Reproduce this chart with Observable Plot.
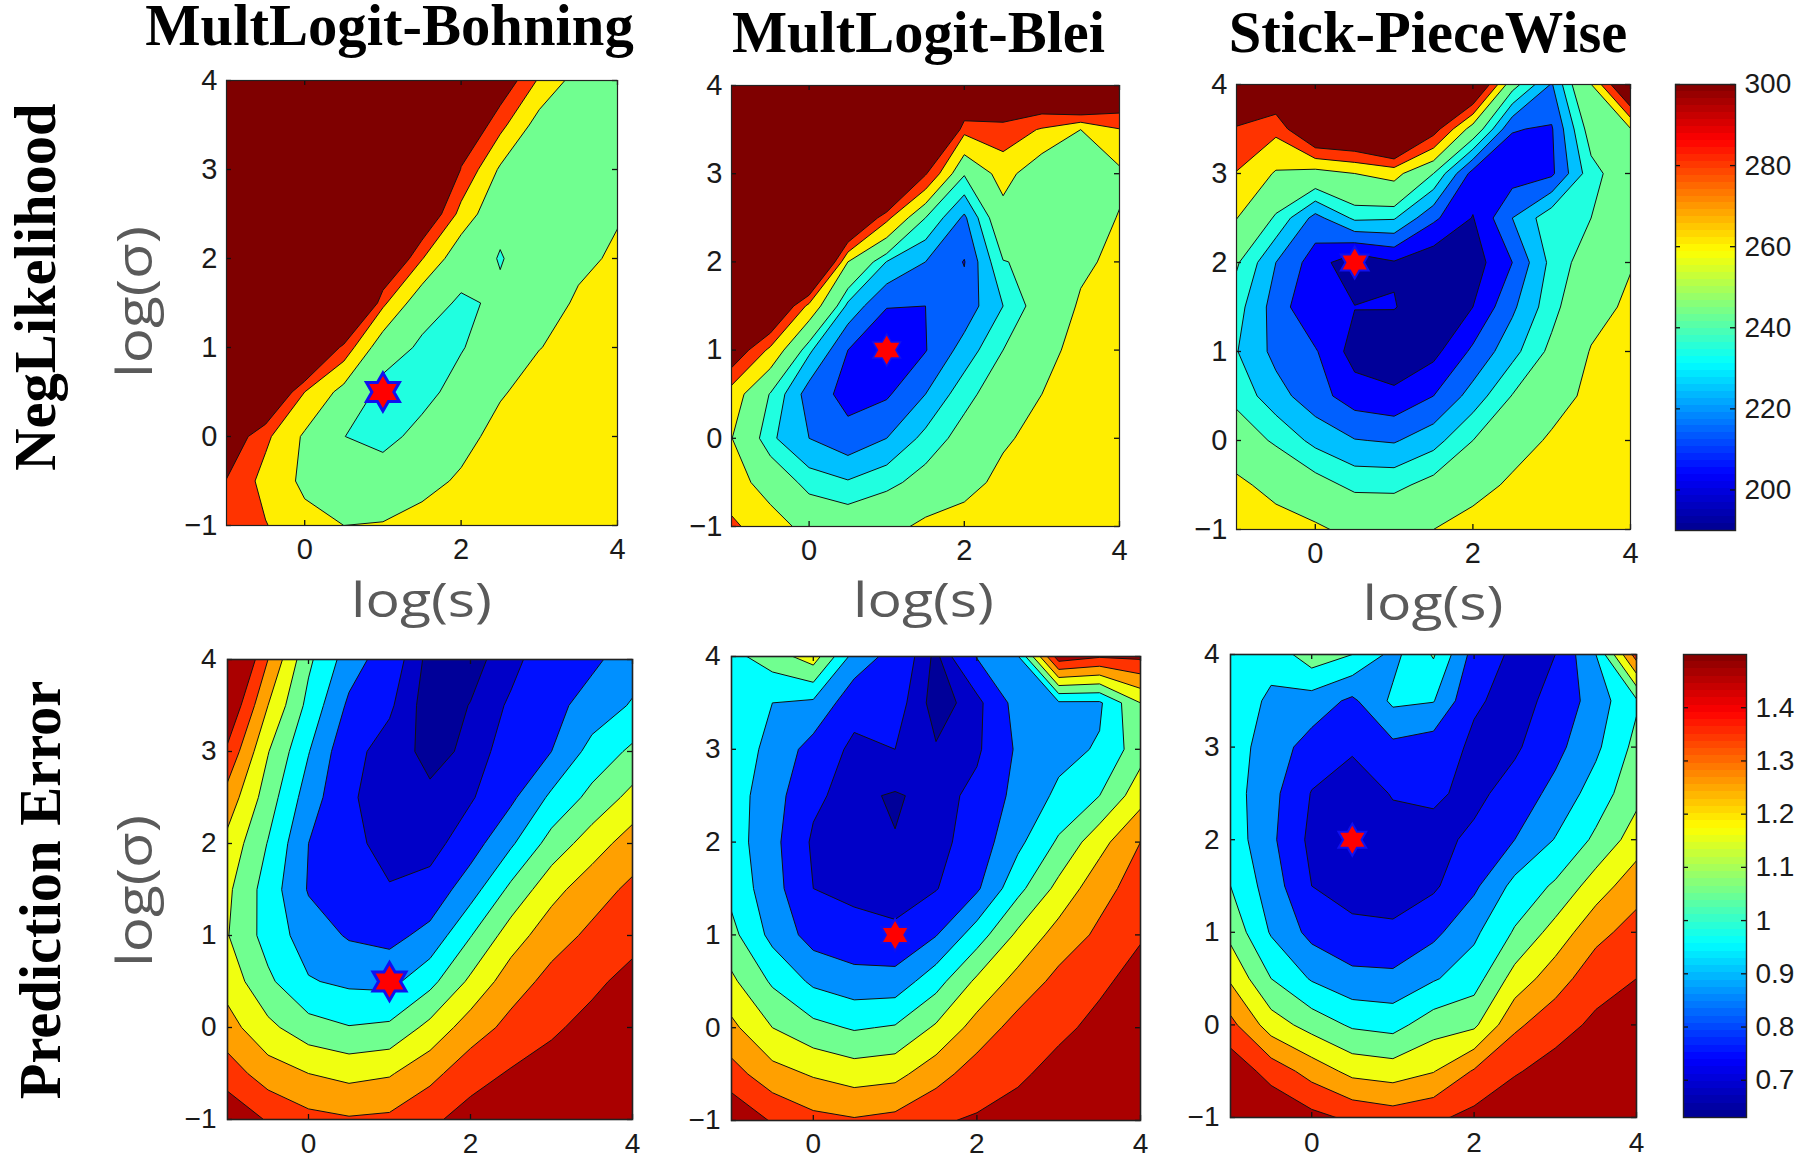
<!DOCTYPE html>
<html>
<head>
<meta charset="utf-8">
<script src="https://cdn.jsdelivr.net/npm/d3@7"></script>
<script src="https://cdn.jsdelivr.net/npm/@observablehq/plot@0.6"></script>
<style>
html,body{margin:0;padding:0;background:#fff}
#page{position:relative;width:1801px;height:1160px;overflow:hidden;background:#fff}
#page svg{position:absolute;overflow:visible}
</style>
</head>
<body>
<div id="page"></div>
<script>
// grid axes: log(s), log(sigma) = -1 ... 4 in steps of 0.5 (11 x 11)
const xTicks = [0, 2, 4];
const yTicks = [-1, 0, 1, 2, 3, 4];
const nllTicks = [200, 220, 240, 260, 280, 300];
const errTicks = [0.7, 0.8, 0.9, 1, 1.1, 1.2, 1.3, 1.4];

const nllLevels = [0, 200, 210, 220, 230, 240, 260, 280, 300];
const nllColors = ["#000099", "#0000ff", "#0060ff", "#00c0ff", "#20ffe0", "#70ff90", "#ffee00", "#ff3300", "#7f0000"];
const errLevels = [0, 0.65, 0.7, 0.8, 0.9, 1, 1.1, 1.2, 1.3, 1.4];
const errColors = ["#000099", "#0000c8", "#0010ff", "#0090ff", "#00ffff", "#70ff90", "#f0ff10", "#ffa000", "#ff3300", "#aa0000"];
const jetStops = [0, 0.125, 0.375, 0.625, 0.875, 1];
const jetColors = ["#00008f", "#0000ff", "#00ffff", "#ffff00", "#ff0000", "#800000"];

// NegLikelihood, rows from log(sigma) = -1 upward
const nllBohningRows = [
  [292,281,266,260,261,268,270,273,275,277,278],
  [299,273,256,250,249,253,263,268,272,274,276],
  [320,284,257,240.2,235,245,253,267,271,274,276],
  [400,342,280,253,235.5,235,246,258,268,271,273],
  [500,450,363,292,246.5,238,239,249,259.5,266,270],
  [560,520,480,400,284,245,238.5,241.5,253,262,268],
  [620,580,540,500,340,281,245,240.2,244.5,257,262],
  [680,640,600,540,420,327,273,242,246,251,259],
  [740,700,660,600,520,440,298,257,248,248,248],
  [800,760,720,680,620,520,330,286,251,246,246],
  [900,880,840,800,760,680,500,318,277,251,247]
];
// The small dip near log(s) = 2.5, log(sigma) = 2 in that panel, as its own 3 x 3 patch (values negated)
const nllBohningDip = [
  -250, -241.5, -250,
  -245, -239.5, -244.5,
  -250, -242, -250
];
// The remaining tables are columns from log(s) = -1 rightward, each from log(sigma) = -1 upward
const nllBleiCols = [
  [284,268,260.5,270,320,400,460,520,580,640,700],
  [268,252,232,239,275,340,420,480,540,600,660],
  [254,235,220,215,232,274,380,450,520,580,640],
  [249,231,213,207,210,227,260,350,450,520,580],
  [254,236.5,220,208.6,201,210.5,229.5,285,400,480,540],
  [264,245,233,220,209.5,210,220,240,302,420,500],
  [270,252,245,236,224,214,209.5,218,241,285,360],
  [278,266,257,248,240,230,239.5,252,268,292,340],
  [279,274,267,260,253,247,243,244,245,278,340],
  [279,276,273,270,267,262,257,250,249,260,380],
  [279,278,276,274,271,268,264,261,256,279,335]
];
const nllStickCols = [
  [274,264,248,236.6,230.5,234,241.5,260.5,279,298,330],
  [268,254,238,224,217,215.5,220,238,258,285,330],
  [263,245,227,214,211,200.5,205,216.5,252,335,400],
  [255,237,220.5,205,195.7,200.3,192.5,232,260,340,400],
  [253,237,219,202.5,192,200.5,199,231,266,370,430],
  [260,244,226,210,197,194,193,212,240,310,370],
  [270,251,240,224,212,200,195,199.5,206,250,340],
  [274,264,250,240.5,226.5,218,210,220,205,210.5,245],
  [276,270,263,251,243,236,233,236.7,208,209,219],
  [278,275,270,265,261,254,247,240,236,246,259.5],
  [279,278,276,272,268,263,259,252,249,259,340]
];
const errBohningCols = [
  [1.48,1.35,1.24,1.16,1.105,1.12,1.17,1.26,1.38,1.5,1.62],
  [1.39,1.25,1.125,1.02,0.96,0.955,0.995,1.05,1.105,1.2,1.3],
  [1.33,1.2,1.04,0.908,0.85,0.792,0.8,0.85,0.905,0.97,1.02],
  [1.31,1.17,1.005,0.88,0.79,0.745,0.72,0.71,0.72,0.78,0.85],
  [1.32,1.19,1.02,0.87,0.77,0.705,0.675,0.665,0.675,0.71,0.74],
  [1.38,1.27,1.13,0.97,0.83,0.735,0.665,0.66,0.635,0.62,0.63],
  [1.44,1.36,1.25,1.12,0.995,0.855,0.755,0.69,0.66,0.652,0.63],
  [1.5,1.41,1.33,1.255,1.15,1.025,0.885,0.78,0.74,0.71,0.68],
  [1.6,1.44,1.385,1.33,1.26,1.165,1.04,0.92,0.8,0.77,0.745],
  [1.56,1.5,1.43,1.38,1.32,1.26,1.15,1.03,0.935,0.84,0.78],
  [1.6,1.55,1.5,1.43,1.37,1.32,1.25,1.13,1.02,0.91,0.85]
];
const errBleiCols = [
  [1.49,1.34,1.225,1.12,1.03,0.97,0.95,0.95,0.96,0.96,0.97],
  [1.39,1.24,1.1,0.985,0.87,0.84,0.83,0.84,0.87,0.9,1.05],
  [1.33,1.19,1.03,0.88,0.76,0.7,0.685,0.72,0.76,0.88,1.15],
  [1.31,1.155,0.99,0.84,0.73,0.68,0.66,0.66,0.68,0.735,0.86],
  [1.33,1.17,1.01,0.84,0.715,0.67,0.652,0.645,0.7,0.73,0.76],
  [1.39,1.26,1.115,0.96,0.795,0.695,0.67,0.665,0.655,0.625,0.635],
  [1.41,1.35,1.24,1.12,0.95,0.785,0.745,0.725,0.685,0.675,0.805],
  [1.45,1.38,1.34,1.235,1.12,0.97,0.875,0.83,0.815,0.84,0.89],
  [1.55,1.44,1.375,1.33,1.24,1.13,1.015,0.92,0.87,0.885,1.46],
  [1.6,1.5,1.43,1.38,1.32,1.265,1.165,1,0.91,0.885,1.41],
  [1.65,1.58,1.5,1.44,1.39,1.345,1.3,1.16,1.06,1.1,1.42]
];
const errStickCols = [
  [1.55,1.47,1.33,1.185,1.07,1,0.96,0.945,0.95,0.95,0.96],
  [1.49,1.36,1.15,1,0.89,0.85,0.82,0.83,0.85,0.885,0.93],
  [1.43,1.26,1.06,0.89,0.77,0.7,0.675,0.695,0.76,0.855,1.06],
  [1.38,1.17,0.985,0.83,0.72,0.67,0.655,0.66,0.71,0.78,1],
  [1.35,1.15,0.965,0.825,0.71,0.675,0.67,0.705,0.775,0.92,0.87],
  [1.38,1.195,1.055,0.89,0.775,0.685,0.67,0.715,0.745,0.905,1.01],
  [1.43,1.31,1.08,0.955,0.88,0.78,0.72,0.675,0.685,0.71,0.76],
  [1.48,1.39,1.28,1.14,1.01,0.93,0.8,0.74,0.685,0.675,0.68],
  [1.55,1.44,1.36,1.255,1.14,1.015,0.905,0.83,0.77,0.72,0.7],
  [1.6,1.5,1.42,1.36,1.27,1.15,1.02,0.945,0.88,0.85,0.9],
  [1.62,1.55,1.47,1.4,1.34,1.26,1.15,1.07,1.03,0.985,1.35]
];

const page = document.getElementById("page");
const ml = 80, mr = 12, mt = 24, mb = 38;
const fmt = d3.format("d");

const panels = [
  {rows: nllBohningRows, levels: nllLevels, colors: nllColors, box: [226, 80, 617, 525], best: [1, 0.5], R: 19, sw: 3, fw: 1.2, xp: 13, yp: 9, fs: 29, dip: nllBohningDip},
  {rows: d3.transpose(nllBleiCols), levels: nllLevels, colors: nllColors, box: [731, 85, 1119, 526], best: [1, 1], R: 16, sw: 1.5, fw: 1.2, xp: 13, yp: 9, fs: 29},
  {rows: d3.transpose(nllStickCols), levels: nllLevels, colors: nllColors, box: [1236, 84, 1630, 529], best: [0.5, 2], R: 16, sw: 2, fw: 1.2, xp: 13, yp: 9, fs: 29},
  {rows: d3.transpose(errBohningCols), levels: errLevels, colors: errColors, box: [227, 659, 632, 1119], best: [1, 0.5], R: 19, sw: 3, fw: 1.6, xp: 14, yp: 11, fs: 28},
  {rows: d3.transpose(errBleiCols), levels: errLevels, colors: errColors, box: [731, 656, 1140, 1120], best: [1, 1], R: 16, sw: 2, fw: 1.6, xp: 13, yp: 11, fs: 28},
  {rows: d3.transpose(errStickCols), levels: errLevels, colors: errColors, box: [1230, 654, 1636, 1117], best: [0.5, 2], R: 16, sw: 2, fw: 1.6, xp: 15, yp: 11, fs: 28}
];

function hexagram() {
  return {
    draw(ctx, size) {
      const R = Math.sqrt(size / Math.PI), r = R / Math.sqrt(3);
      for (let i = 0; i < 12; ++i) {
        const a = -Math.PI / 2 + i * Math.PI / 6, q = i % 2 ? r : R;
        if (i) ctx.lineTo(q * Math.cos(a), q * Math.sin(a));
        else ctx.moveTo(q * Math.cos(a), q * Math.sin(a));
      }
      ctx.closePath();
    }
  };
}

function place(svg, left, top) {
  svg.style.left = left + "px";
  svg.style.top = top + "px";
  svg.style.background = "transparent";
  page.appendChild(svg);
}

for (const p of panels) {
  const [x0, y0, x1, y1] = p.box;
  const w = x1 - x0, h = y1 - y0;
  const svg = Plot.plot({
    width: w + ml + mr, height: h + mt + mb,
    marginLeft: ml, marginRight: mr, marginTop: mt, marginBottom: mb,
    style: {fontFamily: "Liberation Sans", background: "transparent"},
    x: {domain: [-1, 4], axis: null},
    y: {domain: [-1, 4], axis: null},
    color: {type: "ordinal", domain: p.levels, range: p.colors},
    marks: [
      Plot.contour(p.rows.flat(), {
        width: 11, height: 11, x1: -1.25, x2: 4.25, y1: -1.25, y2: 4.25,
        value: (d) => d, thresholds: p.levels, fill: "value",
        stroke: "#111", strokeWidth: 1, clip: true, smooth: true
      }),
      p.dip ? Plot.contour(p.dip, {
        width: 3, height: 3, x1: 1.75, x2: 3.25, y1: 1.25, y2: 2.75,
        value: (d) => d, thresholds: [-240], fill: "#20ffe0",
        stroke: "#111", strokeWidth: 1, clip: true, smooth: true
      }) : null,
      Plot.tickX(xTicks, {x: (d) => d, stroke: "#111", strokeWidth: 1.3, insetTop: h - 5}),
      Plot.tickX(xTicks, {x: (d) => d, stroke: "#111", strokeWidth: 1.3, insetBottom: h - 5}),
      Plot.tickY(yTicks, {y: (d) => d, stroke: "#111", strokeWidth: 1.3, insetRight: w - 5}),
      Plot.tickY(yTicks, {y: (d) => d, stroke: "#111", strokeWidth: 1.3, insetLeft: w - 5}),
      Plot.frame({stroke: "#222", strokeWidth: p.fw}),
      Plot.axisX(xTicks, {tickSize: 0, tickPadding: p.xp, fontSize: p.fs, fill: "#1a1a1a", label: null, tickFormat: fmt}),
      Plot.axisY(yTicks, {tickSize: 0, tickPadding: p.yp, fontSize: p.fs, fill: "#1a1a1a", label: null, tickFormat: fmt}),
      Plot.dot([p.best], {x: (d) => d[0], y: (d) => d[1], r: p.R, symbol: hexagram(), fill: "#ff0000", stroke: "#1010f0", strokeWidth: p.sw})
    ]
  });
  place(svg, x0 - ml, y0 - mt);
}

// colour bars
const bars = [
  {box: [1675, 84, 1735, 530], domain: [190, 300], ticks: nllTicks},
  {box: [1683, 654, 1746, 1117], domain: [0.63, 1.5], ticks: errTicks}
];
const jet = d3.scaleLinear().domain(jetStops).range(jetColors);
for (const b of bars) {
  const [x0, y0, x1, y1] = b.box;
  const w = x1 - x0, h = y1 - y0, [lo, hi] = b.domain;
  const steps = d3.range(64).map((i) => ({
    y1: lo + (hi - lo) * i / 64, y2: lo + (hi - lo) * (i + 1) / 64, c: jet((i + 0.5) / 64)
  }));
  const svg = Plot.plot({
    width: w + 55, height: h + 24 + 24,
    marginLeft: 0, marginRight: 55, marginTop: 24, marginBottom: 24,
    style: {fontFamily: "Liberation Sans", background: "transparent"},
    x: {domain: [0, 1], axis: null},
    y: {domain: b.domain, axis: null},
    marks: [
      Plot.rect(steps, {x1: 0, x2: 1, y1: "y1", y2: "y2", fill: "c", shapeRendering: "crispEdges"}),
      Plot.tickY(b.ticks, {y: (d) => d, stroke: "#111", strokeWidth: 1.3, insetRight: w - 5}),
      Plot.tickY(b.ticks, {y: (d) => d, stroke: "#111", strokeWidth: 1.3, insetLeft: w - 5}),
      Plot.frame({stroke: "#222", strokeWidth: 1.4}),
      Plot.axisY(b.ticks, {anchor: "right", tickSize: 0, tickPadding: 9, fontSize: 28, fill: "#1a1a1a", label: null, tickFormat: (d) => String(d)})
    ]
  });
  place(svg, x0, y0 - 24);
}

// titles and axis names
const overlay = d3.select(page).append("svg")
  .attr("width", 1801).attr("height", 1160).style("left", "0px").style("top", "0px");
const serif = "'Liberation Serif', serif";
const geo = "'Open Sans', sans-serif";
const titles = [
  ["MultLogit-Bohning", 389.5, 45, 58.6], ["MultLogit-Blei", 918.5, 52, 58.4], ["Stick-PieceWise", 1428, 52, 58.5]
];
for (const [t, x, y, s] of titles) {
  overlay.append("text").text(t).attr("x", x).attr("y", y).attr("text-anchor", "middle")
    .attr("font-family", serif).attr("font-weight", 700).attr("font-size", s).attr("fill", "#000");
}
const rowNames = [["NegLikelihood", 55, 287], ["Prediction Error", 60, 890]];
for (const [t, x, y] of rowNames) {
  overlay.append("text").text(t).attr("transform", `translate(${x},${y}) rotate(-90)`).attr("text-anchor", "middle")
    .attr("font-family", serif).attr("font-weight", 700).attr("font-size", 58.5).attr("fill", "#000");
}
const xNames = [[421.5, 617], [923.5, 617], [1433, 620]];
for (const [x, y] of xNames) {
  overlay.append("text").text("log(s)").attr("x", x).attr("y", y).attr("text-anchor", "middle")
    .attr("font-family", geo).attr("font-weight", 400).attr("font-size", 48).attr("fill", "#5a5a5a")
    .attr("textLength", 141).attr("lengthAdjust", "spacingAndGlyphs");
}
const yNames = [[152, 302], [152, 891]];
for (const [x, y] of yNames) {
  overlay.append("text").text("log(σ)").attr("transform", `translate(${x},${y}) rotate(-90)`).attr("text-anchor", "middle")
    .attr("font-family", geo).attr("font-weight", 400).attr("font-size", 50).attr("fill", "#5a5a5a")
    .attr("textLength", 152).attr("lengthAdjust", "spacingAndGlyphs");
}
</script>
</body>
</html>
